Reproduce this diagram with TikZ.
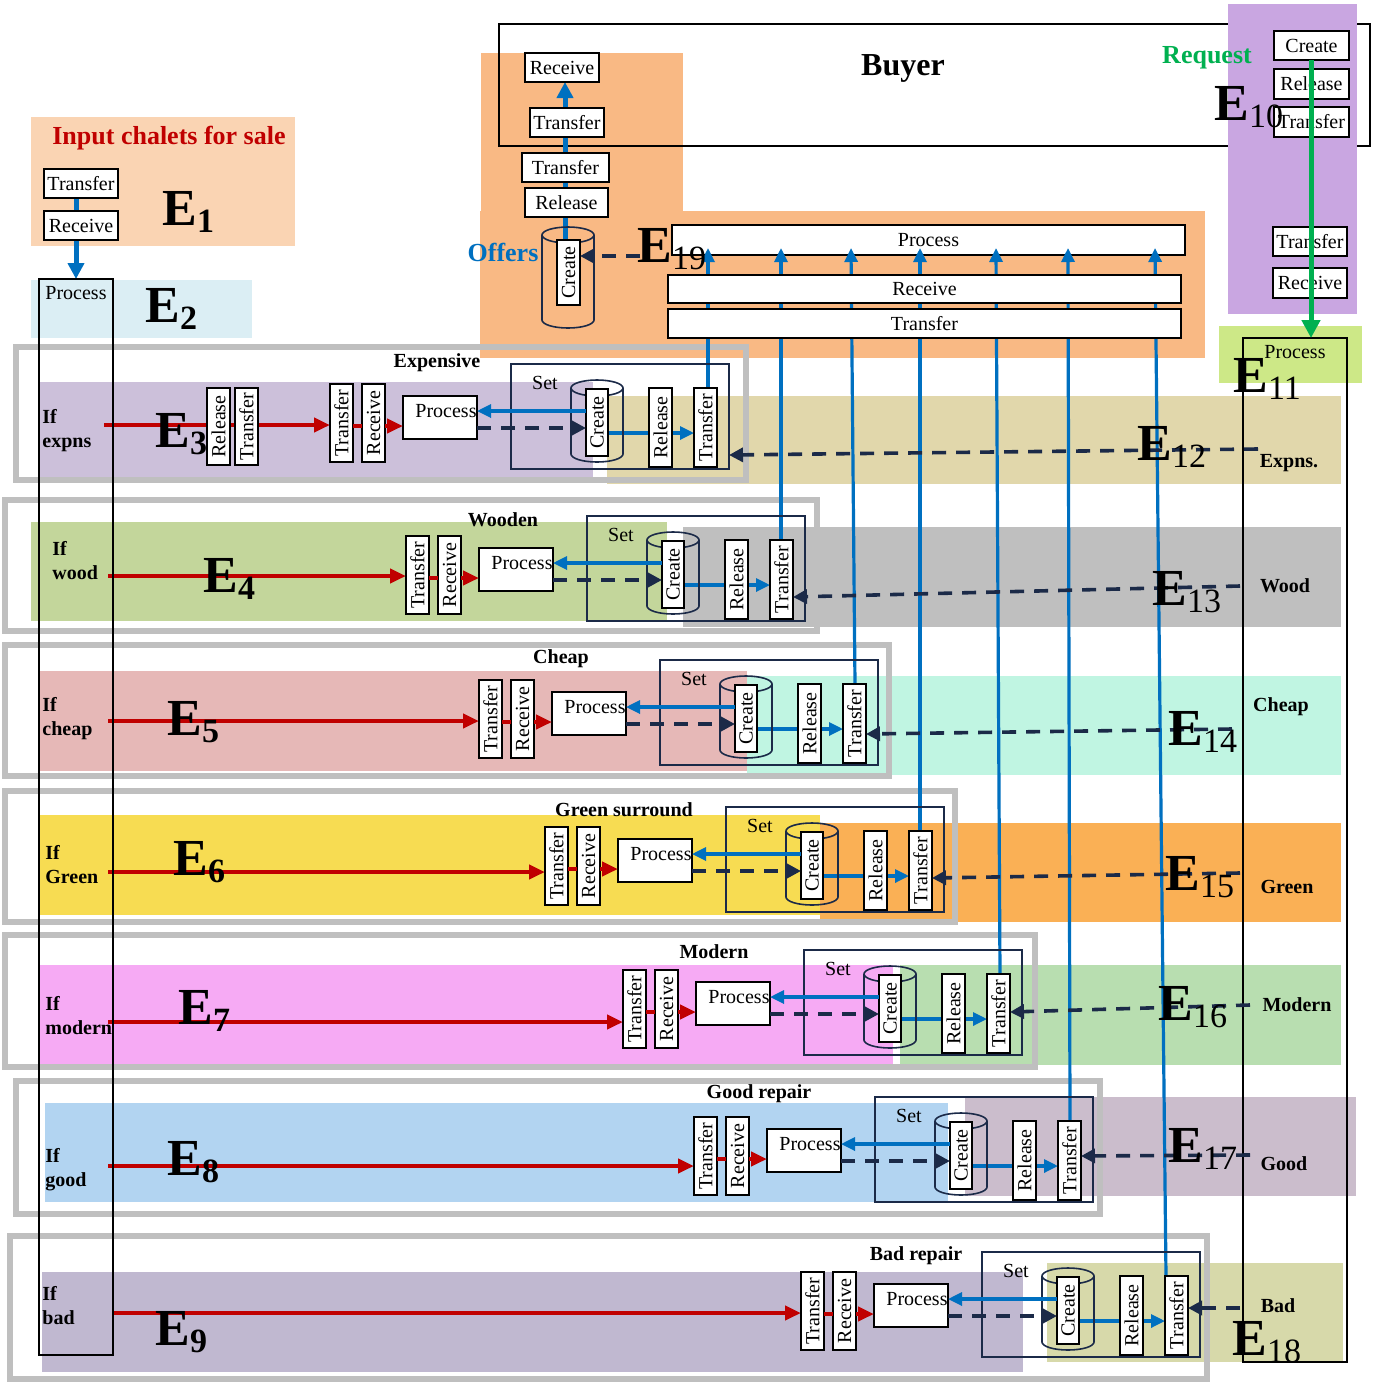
\documentclass[tikz,border=0pt]{standalone}
\usepackage{fontspec}
\setmainfont{Liberation Serif}
\usepackage{graphicx}
\usetikzlibrary{arrows.meta}
\definecolor{nv}{HTML}{1B2A48}
\definecolor{bl}{HTML}{0070C0}
\definecolor{rd}{HTML}{C00000}
\definecolor{gn}{HTML}{00B050}
\definecolor{gf}{HTML}{BFBFBF}
\definecolor{cEa}{HTML}{FAD4B3}
\definecolor{cEb}{HTML}{DBEEF4}
\definecolor{cEs}{HTML}{F9B984}
\definecolor{cEt}{HTML}{C9A6E1}
\definecolor{cEe}{HTML}{CDE887}
\definecolor{cTl}{HTML}{CCC0DA}
\definecolor{cTr}{HTML}{E1D7AB}
\definecolor{cFl}{HTML}{C3D69B}
\definecolor{cFr}{HTML}{BFBFBF}
\definecolor{cVl}{HTML}{E6B8B7}
\definecolor{cVr}{HTML}{C0F5E2}
\definecolor{cSl}{HTML}{F7DC52}
\definecolor{cSr}{HTML}{FAB055}
\definecolor{cGl}{HTML}{F6AAF4}
\definecolor{cGr}{HTML}{B8DEB0}
\definecolor{cHl}{HTML}{B2D4F1}
\definecolor{cHr}{HTML}{CBBDCC}
\definecolor{cIl}{HTML}{C0B8D0}
\definecolor{cIr}{HTML}{D7D9AA}
\pgfdeclarelayer{bg}
\pgfdeclarelayer{ln}
\pgfsetlayers{bg,ln,main}
% boxes given by corners (x1,y1,x2,y2) in pixel units
\newcommand\hbx[7][bx]{\node[#1,minimum width={(#6-(#4))*0.5pt},minimum height={(#7-(#5))*0.5pt}] (#2) at ({(#4+#6)/2},{(#5+#7)/2}) {#3};}
\newcommand\vbx[6]{\hbx{#1}{\rotatebox{90}{#2}}{#3}{#4}{#5}{#6}}
\newcommand\ELb[1]{\fontsize{26}{26}\selectfont\bfseries E\raisebox{-3.5pt}{\fontsize{17}{17}\selectfont #1}}
\newcommand\ELr[1]{\fontsize{26}{26}\selectfont\bfseries E\raisebox{-3.5pt}{\fontsize{17}{17}\selectfont\mdseries #1}}
\newcommand\Blk[3]{%
 \hbx[setbx]{set#1}{}{#2}{#3}{#2+218}{#3+105}
 \node[txt] (setl#1) at (#2+34,#3+19) {Set};
 \draw[cyl] (#2+60,#3+24) -- (#2+60,#3+90) arc[start angle=180,end angle=360,x radius=13pt,y radius=4pt] -- (#2+112,#3+24);
 \draw[cyl] (#2+86,#3+24) ellipse[x radius=13pt,y radius=4pt];
 \vbx{cr#1}{Create}{#2+75}{#3+25}{#2+97}{#3+92}
 \vbx{rl#1}{Release}{#2+138}{#3+24}{#2+161}{#3+103}
 \vbx{tf#1}{Transfer}{#2+183}{#3+24}{#2+206}{#3+103}
 \hbx[bx,label={[txt,anchor=north,xshift=3pt,yshift=-4pt]north:Process}]{pr#1}{}{#2-108}{#3+32}{#2-34}{#3+75}
 \vbx{tr#1}{Transfer}{#2-181}{#3+20}{#2-158}{#3+98}
 \vbx{rc#1}{Receive}{#2-149}{#3+20}{#2-126}{#3+98}
 \draw[redln] (tr#1.east |- 0,#3+62) -- (rc#1.west |- 0,#3+62);
 \draw[redar] (rc#1.east |- 0,#3+62) -- (pr#1.west |- 0,#3+62);
 \draw[blar] (cr#1.west |- 0,#3+47) -- (pr#1.east |- 0,#3+47);
 \draw[dsar] (pr#1.east |- 0,#3+64) -- (cr#1.west |- 0,#3+64);
 \begin{pgfonlayer}{ln}
 \draw[blar] (cr#1.east |- 0,#3+69) -- (tf#1.west |- 0,#3+69);
 \end{pgfonlayer}
}
\begin{document}
\begin{tikzpicture}[x=0.5pt,y=-0.5pt,
 bx/.style={draw=black,fill=white,line width=1pt,inner sep=0pt,outer sep=0pt,font=\fontsize{10}{12}\selectfont},
 tall/.style={draw=black,line width=1pt,inner sep=0pt,outer sep=0pt},
 setbx/.style={draw=nv,line width=0.8pt,inner sep=0pt,outer sep=0pt},
 cyl/.style={draw=nv,line width=0.8pt},
 txt/.style={font=\fontsize{10}{12}\selectfont,inner sep=0pt},
 btxt/.style={font=\fontsize{10}{12}\selectfont\bfseries,inner sep=0pt,align=left},
 elab/.style={inner sep=0pt,anchor=base west},
 gframe/.style={draw=gf,line width=3pt},
 redln/.style={draw=rd,line width=2pt},
 redar/.style={draw=rd,line width=2pt,-{Triangle[length=8pt,width=7pt]}},
 blar/.style={draw=bl,line width=1.6pt,-{Triangle[length=7pt,width=6.5pt]}},
 blthick/.style={draw=bl,line width=2.5pt,-{Triangle[length=8pt,width=8pt]}},
 dsar/.style={draw=nv,line width=1.8pt,dash pattern=on 7pt off 5pt,-{Triangle[length=7pt,width=7pt]}}]
\useasboundingbox (0,0) rectangle (1374,1383);
\begin{pgfonlayer}{bg}
 \fill[white] (0,0) rectangle (1374,1383);
 \fill[cEa] (31,117) rectangle (295,246);
 \fill[cEb] (31,280) rectangle (252,338);
 \fill[cEs] (481,53) rectangle (683,211);
 \fill[cEs] (480,211) rectangle (1205,358);
 \draw[line width=1pt] (499,24) rectangle (1370,146);
 \fill[cEt] (1228,4) rectangle (1357,314);
 \fill[cEe] (1219,326) rectangle (1362,383);
 \fill[cTl] (40,382) rectangle (593,481);
 \fill[cTr] (607,396) rectangle (1341,484);
 \fill[cFl] (31,522) rectangle (667,621);
 \fill[cFr] (683,527) rectangle (1341,627);
 \fill[cVl] (40,671) rectangle (747,771);
 \fill[cVr] (747,676) rectangle (1341,775);
 \fill[cSl] (40,815) rectangle (820,915);
 \fill[cSr] (820,823) rectangle (1341,922);
 \fill[cGl] (40,965) rectangle (893,1065);
 \fill[cGr] (900,965) rectangle (1341,1065);
 \fill[cHl] (45,1103) rectangle (948,1202);
 \fill[cHr] (965,1097) rectangle (1356,1196);
 \fill[cIl] (42,1272) rectangle (1023,1372);
 \fill[cIr] (1047,1263) rectangle (1343,1362);
 \draw[gframe] (16,347) rectangle (746,480);
 \draw[gframe] (5,500) rectangle (817,631);
 \draw[gframe] (5,645) rectangle (889,776);
 \draw[gframe] (5,791) rectangle (955,922);
 \draw[gframe] (5,935) rectangle (1035,1067);
 \draw[gframe] (16,1081) rectangle (1100,1214);
 \draw[gframe] (10,1236) rectangle (1207,1379);
 \hbx{pbar}{Process}{672}{225}{1185}{255}
\end{pgfonlayer}
% top-left E1/E2
\node[inner sep=0pt,font=\fontsize{13}{15}\selectfont\bfseries,text=rd] (inp) at (169,138) {Input chalets for sale};
\hbx{tE1}{Transfer}{44}{169}{118}{198}
\hbx{rE1}{Receive}{44}{211}{118}{240}
\hbx[tall,label={[txt,anchor=north,yshift=-3.5pt]north:Process}]{pE2}{}{39}{279}{113}{1355}
% buyer area
\node[inner sep=0pt,font=\fontsize{16}{18}\selectfont\bfseries] (buy) at (903,68) {Buyer};
\hbx{rc19}{Receive}{525}{53}{599}{82}
\hbx{tfa19}{Transfer}{530}{108}{604}{137}
\hbx{tfb19}{Transfer}{522}{153}{609}{182}
\hbx{rl19}{Release}{525}{188}{608}{217}
\draw[cyl] (542,235) -- (542,320) arc[start angle=180,end angle=360,x radius=13pt,y radius=4pt] -- (594,235);
\draw[cyl] (568,235) ellipse[x radius=13pt,y radius=4pt];
\vbx{cr19}{Create}{557}{240}{580}{305}
\node[inner sep=0pt,font=\fontsize{13}{15}\selectfont\bfseries,text=bl] (off) at (503,252) {Offers};
\hbx{rbar}{Receive}{668}{275}{1181}{303}
\hbx{tbar}{Transfer}{668}{309}{1181}{338}
% E10 / E11
\hbx{ce10}{Create}{1274}{31}{1349}{60}
\hbx{rl10}{Release}{1274}{69}{1349}{99}
\hbx{tf10}{Transfer}{1274}{107}{1349}{137}
\hbx{tfb10}{Transfer}{1273}{227}{1347}{256}
\hbx{rc10}{Receive}{1273}{268}{1347}{298}
\node[inner sep=0pt,font=\fontsize{13}{15}\selectfont\bfseries,text=gn] (req) at (1207,58) {Request};
\hbx[tall,label={[txt,anchor=north,yshift=-3.5pt]north:Process}]{pE11}{}{1243}{338}{1347}{1362}
% rows
\Blk{3}{511}{364}
\Blk{4}{587}{516}
\Blk{5}{660}{660}
\Blk{6}{726}{807}
\Blk{7}{804}{950}
\Blk{8}{875}{1097}
\Blk{9}{982}{1252}
\vbx{rlx}{Release}{207}{388}{230}{465}
\vbx{tfx}{Transfer}{235}{388}{258}{465}
% row texts
\node[btxt,anchor=north west] (if3) at (42,409) {If\\expns};
\node[btxt,anchor=north west] (if4) at (52,541) {If\\wood};
\node[btxt,anchor=north west] (if5) at (42,697) {If\\cheap};
\node[btxt,anchor=north west] (if6) at (45,845) {If\\Green};
\node[btxt,anchor=north west] (if7) at (45,996) {If\\modern};
\node[btxt,anchor=north west] (if8) at (45,1148) {If\\good};
\node[btxt,anchor=north west] (if9) at (42,1286) {If\\bad};
\node[btxt] (h3) at (437,363) {Expensive};
\node[btxt] (h4) at (503,520) {Wooden};
\node[btxt] (h5) at (561,659) {Cheap};
\node[btxt] (h6) at (624,810) {Green surround};
\node[btxt] (h7) at (714,952) {Modern};
\node[btxt] (h8) at (759,1094) {Good repair};
\node[btxt] (h9) at (916,1256) {Bad repair};
\node[btxt] (k3) at (1289,463) {Expns.};
\node[btxt] (k4) at (1285,586) {Wood};
\node[btxt] (k5) at (1281,707) {Cheap};
\node[btxt] (k6) at (1287,887) {Green};
\node[btxt] (k7) at (1297,1005) {Modern};
\node[btxt] (k8) at (1284,1164) {Good};
\node[btxt] (k9) at (1278,1306) {Bad};
% coordinates
\coordinate (s3) at (104,425);
\coordinate (s4) at (108,576);
\coordinate (s5) at (108,721);
\coordinate (s6) at (108,872);
\coordinate (s7) at (108,1022);
\coordinate (s8) at (108,1166);
\coordinate (s9) at (113,1313);
\coordinate (q3) at (1258,449);
\coordinate (q4) at (1240,586);
\coordinate (q5) at (1232,729);
\coordinate (q6) at (1240,873);
\coordinate (q7) at (1250,1005);
\coordinate (q8) at (1250,1155);
\coordinate (q9) at (1240,1308);
\coordinate (t3) at (708,248);
\coordinate (t4) at (781,248);
\coordinate (t5) at (851,248);
\coordinate (t6) at (920,248);
\coordinate (t7) at (996,248);
\coordinate (t8) at (1068,248);
\coordinate (t9) at (1155,248);
\coordinate (c19) at (640,256);
\begin{pgfonlayer}{ln}
 \draw[redar] (s3) -- (tr3.west |- s3);
 \draw[redar] (s4) -- (tr4.west |- s4);
 \draw[redar] (s5) -- (tr5.west |- s5);
 \draw[redar] (s6) -- (tr6.west |- s6);
 \draw[redar] (s7) -- (tr7.west |- s7);
 \draw[redar] (s8) -- (tr8.west |- s8);
 \draw[redar] (s9) -- (tr9.west |- s9);
 \draw[blar] (tf3.north -| 708,0) -- (t3);
 \draw[blar] (tf4.north -| 781,0) -- (t4);
 \draw[blar] (tf5.north -| 855,0) -- (t5);
 \draw[blar] (tf6.north -| 920,0) -- (t6);
 \draw[blar] (tf7.north -| 1000,0) -- (t7);
 \draw[blar] (tf8.north -| 1070,0) -- (t8);
 \draw[blar] (tf9.north -| 1166,0) -- (t9);
 \draw[blthick,-] (tE1.south -| 76,0) -- (rE1.north -| 76,0);
 \draw[blthick] (rE1.south -| 76,0) -- (pE2.north -| 76,0);
 \draw[blthick] (cr19.north -| 565,0) -- (rc19.south -| 565,0);
\end{pgfonlayer}
\draw[dsar] (q3) -- (set3.east |- 0,455);
\draw[dsar] (q4) -- (tf4.east |- 0,597);
\draw[dsar] (q5) -- (tf5.east |- 0,734);
\draw[dsar] (q6) -- (tf6.east |- 0,878);
\draw[dsar] (q7) -- (tf7.east |- 0,1012);
\draw[dsar] (q8) -- (tf8.east |- 0,1156);
\draw[dsar] (q9) -- (tf9.east |- 0,1308);
\draw[dsar] (c19) -- (cr19.east |- 0,256);
\draw[draw=gn,line width=2.5pt,-{Triangle[length=9pt,width=9pt]}] (ce10.south -| 1311,0) -- (pE11.north -| 1311,0);
% E labels
\node[elab] (E1) at (162,225) {\ELb{1}};
\node[elab] (E2) at (145,322) {\ELb{2}};
\node[elab] (E3) at (155,447) {\ELb{3}};
\node[elab] (E4) at (203,592) {\ELb{4}};
\node[elab] (E5) at (167,735) {\ELb{5}};
\node[elab] (E6) at (173,875) {\ELb{6}};
\node[elab] (E7) at (178,1024) {\ELb{7}};
\node[elab] (E8) at (167,1175) {\ELb{8}};
\node[elab] (E9) at (155,1345) {\ELb{9}};
\node[elab] (E10) at (1214,120) {\ELr{10}};
\node[elab] (E11) at (1233,392) {\ELr{11}};
\node[elab] (E12) at (1137,460) {\ELr{12}};
\node[elab] (E13) at (1152,605) {\ELr{13}};
\node[elab] (E14) at (1168,745) {\ELr{14}};
\node[elab] (E15) at (1165,890) {\ELr{15}};
\node[elab] (E16) at (1158,1020) {\ELr{16}};
\node[elab] (E17) at (1168,1162) {\ELr{17}};
\node[elab] (E18) at (1232,1355) {\ELr{18}};
\node[elab] (E19) at (637,262) {\ELr{19}};
\end{tikzpicture}
\end{document}
